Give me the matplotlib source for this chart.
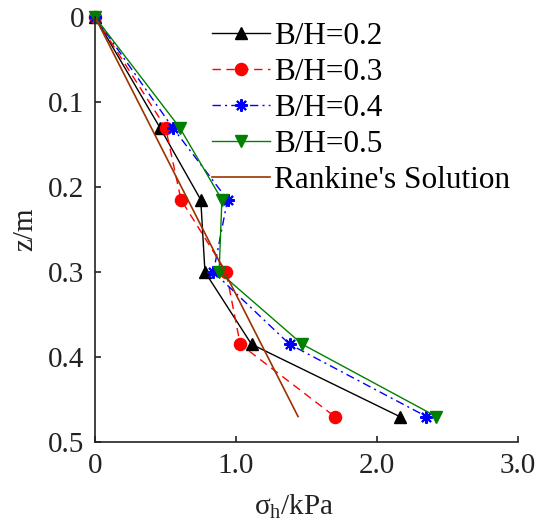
import numpy as np
import matplotlib
matplotlib.use('Agg')
import matplotlib.pyplot as plt

plt.rcParams['font.family'] = ['Liberation Serif', 'DejaVu Serif']
plt.rcParams['mathtext.fontset'] = 'custom'
plt.rcParams['mathtext.rm'] = 'Liberation Serif'
plt.rcParams['mathtext.it'] = 'Liberation Serif:italic'

# depth (m) and horizontal stress (kPa)
depth = [0, 0.13, 0.215, 0.30, 0.385, 0.47]
sigma_02 = [0, 0.46, 0.75, 0.78, 1.11, 2.16]
sigma_03 = [0, 0.50, 0.61, 0.93, 1.03, 1.70]
sigma_04 = [0, 0.55, 0.94, 0.84, 1.38, 2.35]
sigma_05 = [0, 0.60, 0.90, 0.88, 1.47, 2.42]
rankine_depth = [0, 0.47]
rankine_sigma = [0, 1.44]

xticks = [0, 1.0, 2.0, 3.0]
xticklabels = ['0', '1.0', '2.0', '3.0']
yticks = [0, 0.1, 0.2, 0.3, 0.4, 0.5]
yticklabels = ['0', '0.1', '0.2', '0.3', '0.4', '0.5']

fig = plt.figure(figsize=(5.44, 5.29), dpi=100)
ax = fig.add_axes([95 / 544, 1 - 442 / 529, 423 / 544, 425 / 529])

ms = 9
ax.plot(sigma_02, depth, '-^', color='black', lw=1, ms=ms, label='B/H=0.2', clip_on=False)
ax.plot(sigma_03, depth, '--o', color='red', lw=1, ms=ms - 0.3, label='B/H=0.3',
        dashes=(6, 4), clip_on=False)
ax.plot(sigma_04, depth, '-.', marker=(8, 2, 0), color='blue', lw=1, ms=ms, mew=1.5,
        label='B/H=0.4', dashes=(6, 3, 1.5, 3), clip_on=False)
ax.plot(sigma_05, depth, '-v', color='#008000', lw=1, ms=ms, label='B/H=0.5', clip_on=False)
ax.plot(rankine_sigma, rankine_depth, '-', color='#993300', lw=1.2,
        label="Rankine's Solution", clip_on=False)

ax.set_xlim(0, 3.0)
ax.set_ylim(0.5, 0)
ax.set_xticks(xticks)
ax.set_xticklabels(xticklabels)
ax.set_yticks(yticks)
ax.set_yticklabels(yticklabels)

for side in ['top', 'right']:
    ax.spines[side].set_visible(False)
for side in ['left', 'bottom']:
    ax.spines[side].set_linewidth(1.2)
    ax.spines[side].set_color('#222222')
ax.tick_params(direction='in', length=4, width=1.2, labelsize=21, colors='#222222',
               labelcolor='#222222')
ax.tick_params(axis='x', pad=8)
ax.tick_params(axis='y', pad=8)

ax.set_xlabel('σ$_\\mathrm{h}$/kPa', fontsize=21, color='#222222')
ax.set_ylabel('z/m', fontsize=21, color='#222222')
ax.xaxis.set_label_coords(0.47, -0.12)
ax.yaxis.set_label_coords(-0.135, 0.5)

ax.legend(loc='upper left', bbox_to_anchor=(212 / 544, 1 - 22 / 529),
          bbox_transform=fig.transFigure, frameon=False, fontsize=22.5,
          handlelength=1.85, handletextpad=0.15, labelspacing=0.22,
          borderpad=0, borderaxespad=0, numpoints=1)

fig.savefig('out.png', dpi=100)
